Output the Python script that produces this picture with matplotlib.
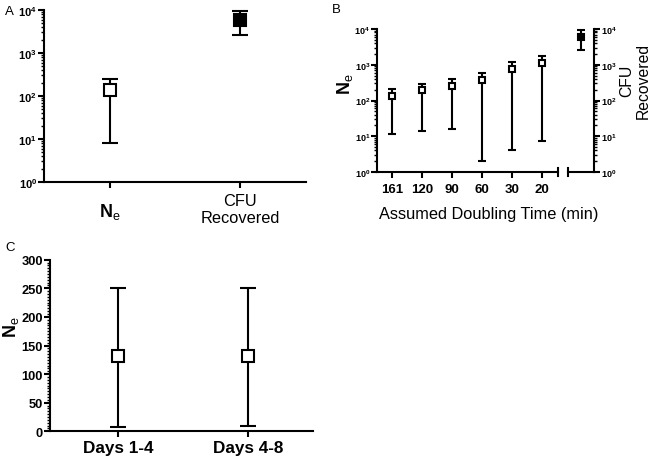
import matplotlib
matplotlib.use("Agg")
import matplotlib.pyplot as plt
from matplotlib.ticker import LogLocator, FixedLocator, MultipleLocator, NullFormatter, FixedFormatter
import numpy as np

plt.rcParams['font.family'] = ['Liberation Sans', 'DejaVu Sans']
plt.rcParams['mathtext.fontset'] = 'custom'
plt.rcParams['mathtext.rm'] = 'Liberation Sans:bold'
plt.rcParams['mathtext.bf'] = 'Liberation Sans:bold'
plt.rcParams['mathtext.it'] = 'Liberation Sans:bold'
plt.rcParams['mathtext.sf'] = 'Liberation Sans'

# ---- data ----
a_labels = ["Ne", "CFU\nRecovered"]
a_ne = [138, 8, 250]          # value, lower, upper
a_cfu = [5900, 2600, 9500]

b_times = ["161", "120", "90", "60", "30", "20"]
b_vals = [135, 195, 250, 375, 760, 1150]
b_low = [11.3, 13.7, 16, 2, 4.1, 7.2]
b_high = [210, 285, 400, 575, 1170, 1780]
b_cfu = [5900, 2600, 9500]

c_labels = ["Days 1-4", "Days 4-8"]
c_vals = [132, 132]
c_low = [7, 10]
c_high = [251, 251]

W, H = 650, 464
fig = plt.figure(figsize=(6.5, 4.64), dpi=100)

def ax_px(l, r, t, b):
    return fig.add_axes([l / W, 1 - b / H, (r - l) / W, (b - t) / H])

def fx(x):
    return x / W

def fy(y):
    return 1 - y / H

LW = 1.5
def style(ax, right=False):
    for s in ['top', 'right', 'left', 'bottom']:
        ax.spines[s].set_visible(False)
    ax.spines['bottom'].set_visible(True)
    ax.spines['bottom'].set_linewidth(LW)
    side = 'right' if right else 'left'
    ax.spines[side].set_visible(True)
    ax.spines[side].set_linewidth(LW)
    ax.tick_params(axis='both', which='major', width=LW, length=4)
    ax.tick_params(axis='both', which='minor', width=1.0, length=2.5)
    ax.patch.set_alpha(0)

log_labels = [r"$10^{%d}$" % i for i in range(5)]
def log_y(ax, fs=7.5, right=False):
    ax.set_yscale('log')
    ax.set_ylim(1, 1e4)
    ax.yaxis.set_major_locator(FixedLocator([1, 10, 100, 1000, 10000]))
    ax.yaxis.set_major_formatter(FixedFormatter(log_labels))
    ax.yaxis.set_minor_locator(LogLocator(base=10, subs=np.arange(2, 10)))
    ax.yaxis.set_minor_formatter(NullFormatter())
    ax.tick_params(axis='y', labelsize=fs, pad=1)
    if right:
        ax.yaxis.tick_right()

def errpoint(ax, x, v, lo, hi, filled, ms, cap):
    ax.errorbar([x], [v], yerr=[[v - lo], [hi - v]], fmt='s', color='black',
                mfc='black' if filled else 'white', mec='black', mew=1.5, ms=ms,
                capsize=cap, capthick=1.5, elinewidth=1.5, clip_on=False, zorder=3)

NE = r"$\mathbf{N}_\mathsf{e}$"

# ---- Panel A ----
axA = ax_px(44, 306, 11, 183)
style(axA)
log_y(axA, fs=8)
axA.set_xlim(-0.508, 1.508)
errpoint(axA, 0, a_ne[0], a_ne[1], a_ne[2], False, 8.5, 5.5)
errpoint(axA, 1, a_cfu[0], a_cfu[1], a_cfu[2], True, 8.5, 5.5)
axA.set_xticks([0, 1])
axA.set_xticklabels(["", ""])
axA.text(0, -0.17, NE, transform=axA.get_xaxis_transform(),
         ha='center', va='center', fontsize=13)
axA.text(1, -0.157, a_labels[1], transform=axA.get_xaxis_transform(),
         ha='center', va='center', fontsize=11.8, linespacing=1.1)
fig.text(fx(5), fy(12), "A", fontsize=9.5, ha='left', va='center')

# ---- Panel B ----
axB = ax_px(377, 558, 30, 173)
style(axB)
log_y(axB, fs=6.5)
axB.set_xlim(-0.49, 5.54)
for i in range(len(b_times)):
    errpoint(axB, i, b_vals[i], b_low[i], b_high[i], False, 5, 3)
axB.set_xticks(range(len(b_times)))
axB.set_xticklabels(b_times, fontsize=9.5, fontweight='bold')
axB.tick_params(axis='x', pad=4)
fig.text(fx(489), fy(214), "Assumed Doubling Time (min)", fontsize=11.8,
         ha='center', va='center')
fig.text(fx(345), fy(84), NE, fontsize=13, rotation=90, ha='center', va='center')
axB.plot([1, 1], [-0.03, 0.03], transform=axB.transAxes, color='black', lw=LW, clip_on=False)

axB2 = ax_px(568, 594, 30, 173)
style(axB2, right=True)
log_y(axB2, fs=6.5, right=True)
axB2.set_xlim(-0.43, 0.43)
errpoint(axB2, 0, b_cfu[0], b_cfu[1], b_cfu[2], True, 5, 3)
axB2.set_xticks([])
axB2.plot([0, 0], [-0.03, 0.03], transform=axB2.transAxes, color='black', lw=LW, clip_on=False)
fig.text(fx(635), fy(81), "CFU\nRecovered", fontsize=11.3, rotation=90,
         ha='center', va='center', multialignment='center', linespacing=1.2)
fig.text(fx(332), fy(10), "B", fontsize=9.5, ha='left', va='center')

# ---- Panel C ----
axC = ax_px(50, 313, 260.7, 432.3)
style(axC)
axC.set_ylim(0, 300)
axC.set_xlim(-0.523, 1.5)
axC.yaxis.set_major_locator(MultipleLocator(50))
axC.yaxis.set_minor_locator(MultipleLocator(5))
axC.tick_params(axis='y', labelsize=9.3, pad=1)
for lab in axC.get_yticklabels():
    lab.set_fontweight('bold')
for i in range(len(c_labels)):
    errpoint(axC, i, c_vals[i], c_low[i], c_high[i], False, 8, 5.5)
axC.set_xticks([0, 1])
axC.set_xticklabels(c_labels, fontsize=12.3, fontweight='bold')
axC.tick_params(axis='x', pad=2)
fig.text(fx(11), fy(327), NE, fontsize=13, rotation=90, ha='center', va='center')
fig.text(fx(5), fy(248), "C", fontsize=9.5, ha='left', va='center')

fig.savefig("out.png", dpi=100)
